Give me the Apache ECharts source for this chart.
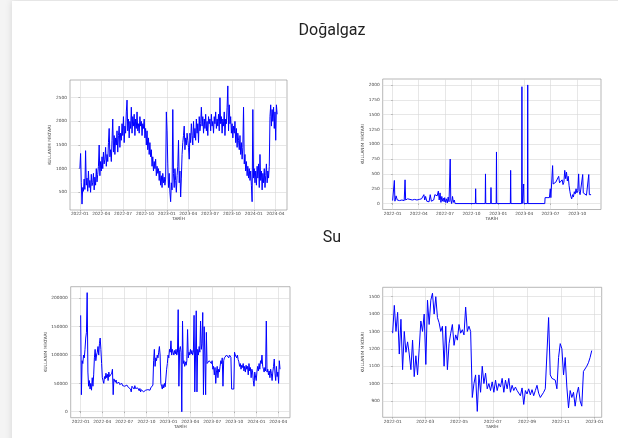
<!DOCTYPE html>
<html><head><meta charset="utf-8">
<script src="https://cdn.jsdelivr.net/npm/echarts@6/dist/echarts.min.js"></script>
<style>
html,body{margin:0;padding:0;background:#f4f4f4;width:618px;height:438px;overflow:hidden}
#card{position:absolute;left:12px;top:1px;width:720px;height:520px;background:#fff;box-shadow:0 0 7px rgba(0,0,0,0.13)}
#chart{position:absolute;left:0;top:0;width:618px;height:438px}
</style></head><body><div id="card"></div><div id="chart"></div>
<script>
// ---- data ----
const startDate = '2022-01-01';
const sectionTitles = ['Doğalgaz', 'Su'];
const xAxisTitle = 'TARİH';
const yAxisTitle = 'KULLANIM MİKTARI';

// top-left: natural gas, one value every 3 days from 2022-01-01
const gasStepDays = 3;
const gasValues = [
 1000,1320,700,250,600,520,780,560,1380,650,
 800,520,950,600,750,500,880,640,700,900,
 550,820,650,1000,720,880,1050,1500,850,1150,
 950,1250,1000,1350,1100,1200,1450,1050,1300,1150,
 1550,1850,1250,1400,1150,1600,2050,1350,1700,1300,
 1650,1500,1800,1350,1700,1900,1450,1750,1600,1950,
 1700,2100,1550,1900,1750,2200,2450,1800,2050,1650,
 2000,1850,2300,1750,2100,1900,2150,1700,2050,1850,
 2200,1800,1950,1750,2100,1900,2000,1700,1950,1850,
 2050,1650,1850,1500,1800,1400,1650,1300,1550,1250,
 1400,1050,1250,950,1150,1000,1200,850,1050,900,
 1000,750,950,650,850,600,900,700,820,650,780,
 2200,1800,1100,600,900,500,300,700,550,2250,
 900,600,1000,750,500,850,1050,1600,700,950,
 400,800,1300,1550,1700,1900,1400,1650,1500,1750,
 1600,1450,1200,1750,1550,1950,1700,1500,2000,1650,
 1850,1600,2050,1750,1950,1550,2100,1800,1950,2300,
 1900,2100,1750,2050,1850,2150,1800,2000,1700,2100,1950,
 2050,1800,2150,1900,2000,1750,2100,1950,2200,1850,
 2050,1900,2150,1800,2500,1950,2100,1750,2050,1900,
 2200,1700,2050,1950,2300,2750,1800,2350,1950,2100,1750,
 1950,1650,1900,1750,2000,1550,1850,1450,1750,1600,
 1400,1700,1300,1550,1200,1450,2300,1100,1300,950,
 1150,850,1050,800,1000,750,950,650,300,2250,
 800,1000,700,950,650,1050,800,1100,600,1300,
 750,950,550,900,700,1000,600,850,1100,700,
 950,800,1050,2100,2350,1900,2250,2000,2300,1850,
 2200,1600,2350,2150
];

// top-right: [day offset from start, value]
const elecPoints = [
 [0,50],[4,80],[6,390],[8,40],[12,130],[16,60],[20,90],[24,50],[28,80],[32,60],[36,70],[40,50],
 [43,400],[45,60],[48,50],[52,80],[56,60],[60,70],[64,80],[68,60],[72,75],[76,70],[80,80],[84,60],
 [88,90],[92,70],[96,60],[100,80],[104,50],[108,150],[111,60],[114,120],[118,40],[122,70],[126,30],
 [130,150],[134,40],[138,20],[142,60],[146,150],[150,170],[154,130],[158,210],[161,60],[164,180],
 [167,20],[170,120],[173,40],[176,90],[178,30],[180,100],[183,20],[186,80],[189,10],[192,110],
 [195,30],[198,60],[199,750],[201,60],[204,0],[207,120],[210,20],[213,60],[216,0],
 [286,0],[287,250],[288,0],[320,0],[321,500],[322,0],[339,0],[340,270],[341,0],[358,0],[359,870],[360,0],
 [407,0],[408,560],[409,0],[446,0],[447,1970],[448,0],[452,0],[453,330],[454,0],[466,0],[467,2000],[468,0],
 [526,0],[527,100],[530,80],[534,100],[538,90],[542,100],[545,250],[547,100],[550,120],[553,640],
 [555,330],[558,350],[561,340],[564,360],[567,380],[570,340],[574,460],[577,350],[580,380],[583,340],
 [586,400],[589,320],[592,360],[595,560],[598,420],[601,530],[604,380],[607,460],[610,300],[613,200],
 [616,120],[619,80],[622,150],[625,110],[628,200],[631,160],[634,250],[637,180],[640,220],[643,500],
 [645,200],[648,150],[651,180],[654,160],[657,490],[659,180],[662,150],[665,170],[670,140],[678,490],[680,150],[686,150]
];

// bottom-left: water, one value every 3 days from 2022-01-01
const waterStepDays = 3;
const waterValues = [
 170000,30000,90000,85000,100000,95000,110000,130000,140000,210000,
 70000,45000,55000,40000,50000,38000,60000,45000,65000,95000,
 110000,90000,100000,105000,115000,100000,120000,130000,110000,85000,
 60000,55000,50000,62000,58000,68000,60000,66000,55000,70000,
 62000,65000,60000,68000,75000,30000,58000,55000,52000,56000,
 50000,53000,49000,52000,48000,51000,47000,50000,46000,49000,
 47000,45000,48000,44000,47000,45000,43000,46000,44000,40000,
 35000,45000,42000,44000,40000,46000,41000,43000,38000,42000,
 40000,37000,41000,35000,39000,36000,38000,35000,37000,36000,
 38000,35000,37000,39000,36000,40000,38000,42000,45000,43000,
 47000,90000,110000,80000,95000,90000,100000,95000,105000,115000,
 100000,50000,45000,40000,48000,42000,50000,44000,47000,75000,
 85000,100000,95000,110000,105000,125000,100000,110000,105000,100000,
 108000,102000,110000,100000,105000,180000,45000,110000,115000,105000,
 0,160000,85000,90000,80000,88000,82000,90000,145000,95000,
 105000,100000,110000,102000,108000,100000,105000,170000,35000,100000,
 178000,35000,110000,100000,115000,105000,160000,110000,120000,175000,
 30000,150000,100000,30000,140000,85000,88000,85000,90000,87000,
 88000,85000,90000,75000,80000,65000,78000,50000,70000,80000,
 60000,75000,70000,80000,90000,85000,95000,45000,90000,95000,
 98000,95000,100000,97000,102000,95000,100000,98000,96000,40000,
 38000,42000,40000,105000,100000,103000,95000,100000,92000,88000,
 80000,85000,75000,82000,78000,85000,72000,80000,70000,82000,
 75000,80000,65000,85000,72000,78000,60000,75000,70000,55000,
 45000,70000,68000,55000,70000,80000,72000,85000,75000,90000,
 85000,100000,80000,75000,70000,78000,72000,160000,70000,75000,
 65000,72000,60000,75000,68000,55000,70000,80000,93000,68000,
 55000,80000,62000,70000,50000,90000,75000
];

// bottom-right: water (2022), one value every 3 days
const water2StepDays = 3;
const water2Values = [
 1290,1450,1300,1410,1170,1370,1080,1300,1180,1240,1170,1080,1250,1040,1160,1050,1200,1360,1300,1400,
 1110,1480,1340,1480,1520,1400,1500,1380,1350,1300,1330,1100,1330,1080,1230,1290,1340,1220,1280,1250,
 1340,1290,1310,1280,1440,1300,1330,1300,920,1000,1050,840,1050,950,1100,1000,1060,970,1000,960,
 1010,950,1020,960,1000,980,1030,950,1020,970,1030,950,990,960,980,960,970,930,975,880,
 960,940,970,935,965,930,960,990,945,920,910,950,970,960,1380,1050,1030,1040,1020,970,
 1150,1230,1200,1050,1150,980,860,960,920,950,870,940,980,900,870,1070,1080,1100,1120,1150,1190
];

// tick labels
const xTicksLong = ['2022-01','2022-04','2022-07','2022-10','2023-01','2023-04','2023-07','2023-10','2024-01','2024-04'];
const xTicksMid = ['2022-01','2022-04','2022-07','2022-10','2023-01','2023-04','2023-07','2023-10'];
const xTicksYear = ['2022-01','2022-03','2022-05','2022-07','2022-09','2022-11','2023-01'];
const gasYTicks = [500,1000,1500,2000,2500];
const elecYTicks = [0,250,500,750,1000,1250,1500,1750,2000];
const waterYTicks = [0,50000,100000,150000,200000];
const water2YTicks = [900,1000,1100,1200,1300,1400,1500];

// ---- helpers ----
const DAY = 86400000;
const t0 = Date.parse(startDate + 'T00:00:00Z');
function dayOf(ym){ return (Date.parse(ym + '-01T00:00:00Z') - t0) / DAY; }
function fmtDay(v){
  const d = new Date(t0 + Math.round(v) * DAY + DAY/2);
  return d.getUTCFullYear() + '-' + String(d.getUTCMonth()+1).padStart(2,'0');
}
function stepSeries(vals, step){ return vals.map((v,i)=>[i*step, v]); }
function pad(lo, hi){ const m = (hi-lo)*0.05; return [lo-m, hi+m]; }

const panels = [
  {grid:{left:70, top:80, width:217, height:130}, data: stepSeries(gasValues, gasStepDays), xt: xTicksLong, yt: gasYTicks, yGap:13.5},
  {grid:{left:382.7, top:79, width:218.3, height:130.5}, data: elecPoints, xt: xTicksMid, yt: elecYTicks, yGap:13.5},
  {grid:{left:70.7, top:286.7, width:219.3, height:131}, data: stepSeries(waterValues, waterStepDays), xt: xTicksLong, yt: waterYTicks, yGap:20.5},
  {grid:{left:382.7, top:287.3, width:219, height:130}, data: stepSeries(water2Values, water2StepDays), xt: xTicksYear, yt: water2YTicks, yGap:13.5}
];

const FS = 4.3;
const labelColor = '#444';
const grids = [], xAxes = [], yAxes = [], series = [];
panels.forEach((p, i) => {
  const xs = p.data.map(d=>d[0]), ys = p.data.map(d=>d[1]);
  const xr = pad(Math.min(...xs), Math.max(...xs));
  const yr = pad(Math.min(...ys), Math.max(...ys));
  grids.push(Object.assign({show:true, borderColor:'#999', borderWidth:0.7, backgroundColor:'#fff'}, p.grid));
  const xTickVals = p.xt.map(dayOf);
  xAxes.push({
    type:'value', gridIndex:i, min:xr[0], max:xr[1],
    name: xAxisTitle, nameLocation:'middle', nameGap:6.8,
    nameTextStyle:{fontSize:FS, color:labelColor, fontFamily:'DejaVu Sans'},
    axisLine:{show:false},
    axisTick:{show:true, length:1.4, customValues:xTickVals, lineStyle:{color:'#777', width:0.5}},
    axisLabel:{customValues:xTickVals, formatter:fmtDay, fontSize:FS, color:labelColor, margin:2.3, fontFamily:'DejaVu Sans', hideOverlap:false},
    splitLine:{show:true, lineStyle:{color:'#d6d6d6', width:0.6}}
  });
  yAxes.push({
    type:'value', gridIndex:i, min:yr[0], max:yr[1],
    name: yAxisTitle, nameLocation:'middle', nameGap:p.yGap, nameRotate:90,
    nameTextStyle:{fontSize:FS, color:labelColor, fontFamily:'DejaVu Sans'},
    axisLine:{show:false},
    axisTick:{show:true, length:1.4, customValues:p.yt, lineStyle:{color:'#777', width:0.5}},
    axisLabel:{customValues:p.yt, formatter:v=>String(v), fontSize:FS, color:labelColor, margin:3, fontFamily:'DejaVu Sans', hideOverlap:false},
    splitLine:{show:true, lineStyle:{color:'#d6d6d6', width:0.6}}
  });
  series.push({
    type:'line', xAxisIndex:i, yAxisIndex:i, data:p.data, showSymbol:false, symbol:'none',
    lineStyle:{color:'#0000ff', width:1.0}, silent:true, animation:false
  });
});

const chart = echarts.init(document.getElementById('chart'), null, {renderer:'canvas'});
chart.setOption({
  animation:false,
  backgroundColor:'transparent',
  graphic:[
    {type:'text', x:332, y:30.5, style:{text:sectionTitles[0], textAlign:'center', textVerticalAlign:'middle', font:'16px Roboto', fill:'#222'}},
    {type:'text', x:332, y:237.5, style:{text:sectionTitles[1], textAlign:'center', textVerticalAlign:'middle', font:'16px Roboto', fill:'#222'}}
  ],
  grid:grids, xAxis:xAxes, yAxis:yAxes, series:series
});
</script></body></html>
